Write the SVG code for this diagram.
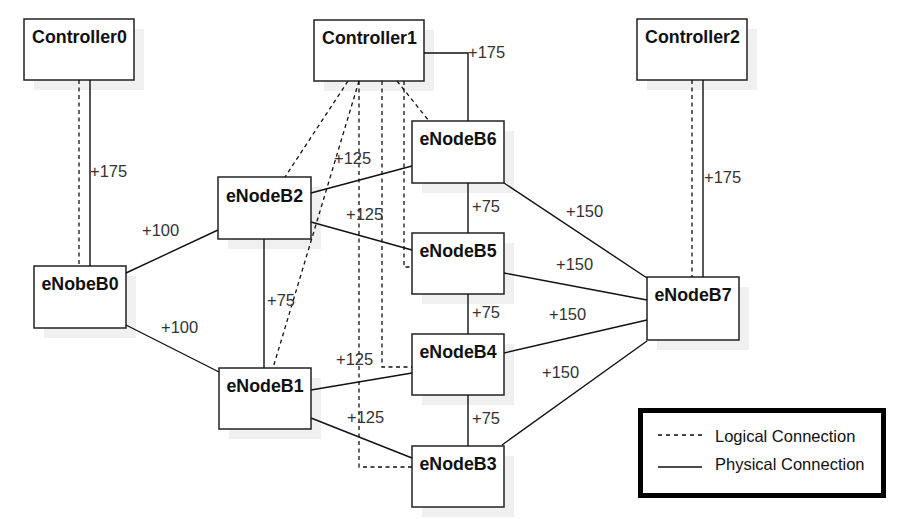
<svg xmlns="http://www.w3.org/2000/svg" width="906" height="519" viewBox="0 0 906 519">
<style>
.sh{fill:#f0f0f0;stroke:none}
.bx{fill:#fff;stroke:#222;stroke-width:1.5}
.nm{font-family:"Liberation Sans",Arial,sans-serif;font-weight:bold;font-size:17.8px;fill:#111;text-anchor:middle}
.lb{font-family:"Liberation Sans",Arial,sans-serif;font-size:16.5px;fill:#333}
.ph{fill:none;stroke:#111;stroke-width:1.4}
.lg{fill:none;stroke:#111;stroke-width:1.3;stroke-dasharray:4 3.5}
.lt{font-family:"Liberation Sans",Arial,sans-serif;font-size:16.5px;fill:#111}
</style>
<rect width="906" height="519" fill="#fff"/>
<g id="Controller0"><rect class="sh" x="34" y="29" width="110" height="61"/><rect class="bx" x="24" y="19" width="110" height="61"/><text class="nm" x="79.5" y="43">Controller0</text></g>
<g id="Controller1"><rect class="sh" x="324" y="30" width="110" height="61"/><rect class="bx" x="314" y="20" width="110" height="61"/><text class="nm" x="369.5" y="44">Controller1</text></g>
<g id="Controller2"><rect class="sh" x="647" y="29" width="110" height="61"/><rect class="bx" x="637" y="19" width="110" height="61"/><text class="nm" x="692.5" y="43">Controller2</text></g>
<g id="eNobeB0"><rect class="sh" x="44" y="276" width="92" height="62"/><rect class="bx" x="34" y="266" width="92" height="62"/><text class="nm" x="80" y="290">eNobeB0</text></g>
<g id="eNodeB1"><rect class="sh" x="229" y="378" width="92" height="61"/><rect class="bx" x="219" y="368" width="92" height="61"/><text class="nm" x="265" y="392">eNodeB1</text></g>
<g id="eNodeB2"><rect class="sh" x="228" y="187" width="93" height="62"/><rect class="bx" x="218" y="177" width="93" height="62"/><text class="nm" x="264.5" y="202">eNodeB2</text></g>
<g id="eNodeB3"><rect class="sh" x="422" y="456" width="92" height="61"/><rect class="bx" x="412" y="446" width="92" height="61"/><text class="nm" x="458" y="470">eNodeB3</text></g>
<g id="eNodeB4"><rect class="sh" x="422" y="344" width="92" height="61"/><rect class="bx" x="412" y="334" width="92" height="61"/><text class="nm" x="458" y="358">eNodeB4</text></g>
<g id="eNodeB5"><rect class="sh" x="422" y="243" width="92" height="61"/><rect class="bx" x="412" y="233" width="92" height="61"/><text class="nm" x="458" y="257">eNodeB5</text></g>
<g id="eNodeB6"><rect class="sh" x="422" y="131" width="92" height="62"/><rect class="bx" x="412" y="121" width="92" height="62"/><text class="nm" x="458" y="145">eNodeB6</text></g>
<g id="eNodeB7"><rect class="sh" x="657" y="287" width="92" height="63"/><rect class="bx" x="647" y="277" width="92" height="63"/><text class="nm" x="693" y="301">eNodeB7</text></g>
<g id="connectors">
<line class="lg" x1="79" y1="80" x2="79" y2="266"/>
<line class="ph" x1="90" y1="80" x2="90" y2="266"/>
<line class="lg" x1="692" y1="80" x2="692" y2="277"/>
<line class="ph" x1="703" y1="80" x2="703" y2="277"/>
<polyline class="ph" points="424,53 468,53 468,121"/>
<line class="lg" x1="348" y1="81" x2="285" y2="177"/>
<line class="lg" x1="359" y1="81" x2="273" y2="368"/>
<polyline class="lg" points="359,81 359,467 412,467"/>
<polyline class="lg" points="382,81 382,367 412,367"/>
<polyline class="lg" points="404,81 404,267 412,267"/>
<line class="lg" x1="397" y1="81" x2="429" y2="121"/>
<line class="ph" x1="126" y1="273" x2="218" y2="230"/>
<line class="ph" x1="126" y1="325" x2="219" y2="372"/>
<line class="ph" x1="264" y1="239" x2="264" y2="368"/>
<line class="ph" x1="311" y1="193" x2="412" y2="166"/>
<line class="ph" x1="311" y1="222" x2="412" y2="250"/>
<line class="ph" x1="311" y1="390" x2="412" y2="373"/>
<line class="ph" x1="311" y1="418" x2="412" y2="458"/>
<line class="ph" x1="468" y1="183" x2="468" y2="233"/>
<line class="ph" x1="468" y1="294" x2="468" y2="334"/>
<line class="ph" x1="468" y1="395" x2="468" y2="446"/>
<line class="ph" x1="504" y1="183" x2="647" y2="278"/>
<line class="ph" x1="504" y1="273" x2="647" y2="300"/>
<line class="ph" x1="504" y1="353" x2="647" y2="320"/>
<line class="ph" x1="502" y1="445" x2="647" y2="341"/>
<text class="lb" x="90" y="177">+175</text>
<text class="lb" x="704" y="183">+175</text>
<text class="lb" x="468" y="58">+175</text>
<text class="lb" x="142" y="236">+100</text>
<text class="lb" x="161" y="333">+100</text>
<text class="lb" x="267" y="306">+75</text>
<text class="lb" x="334" y="164">+125</text>
<text class="lb" x="346" y="220">+125</text>
<text class="lb" x="336" y="365">+125</text>
<text class="lb" x="347" y="423">+125</text>
<text class="lb" x="472" y="212">+75</text>
<text class="lb" x="472" y="318">+75</text>
<text class="lb" x="472" y="424">+75</text>
<text class="lb" x="566" y="217">+150</text>
<text class="lb" x="556" y="270">+150</text>
<text class="lb" x="549" y="320">+150</text>
<text class="lb" x="542" y="378">+150</text>
</g>
<g id="legend">
<rect x="640.5" y="410.5" width="243" height="85" fill="#fff" stroke="#000" stroke-width="5"/>
<line class="lg" x1="658" y1="435" x2="702" y2="435" style="stroke-dasharray:4 4"/>
<line class="ph" x1="658" y1="467" x2="702" y2="467"/>
<text class="lt" x="715" y="442">Logical Connection</text>
<text class="lt" x="715" y="470">Physical Connection</text>
</g>
</svg>
